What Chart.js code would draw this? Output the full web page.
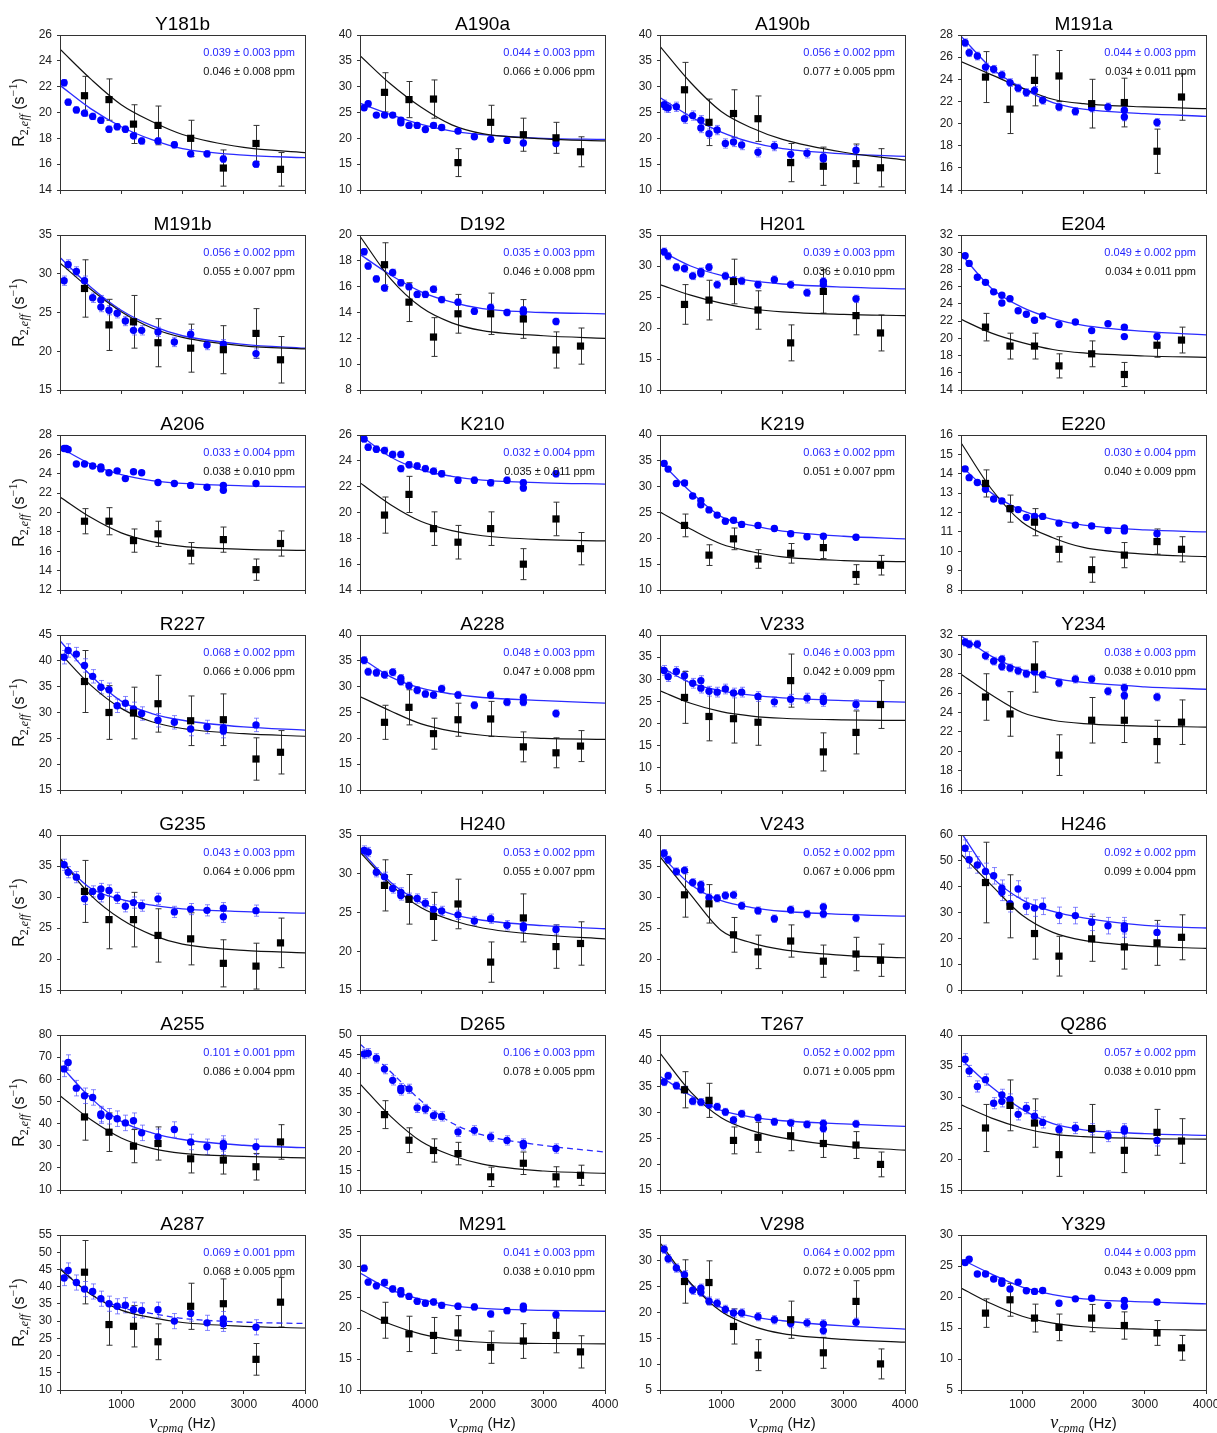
<!DOCTYPE html>
<html><head><meta charset="utf-8">
<script src="https://cdn.jsdelivr.net/npm/chart.js@4.4.0/dist/chart.umd.min.js"></script>
<style>
html,body{margin:0;padding:0;background:#fff;}
#wrap{position:relative;width:1217px;height:1433px;overflow:hidden;background:#fff;}
#wrap canvas{position:absolute;}
</style></head><body><div id="wrap"></div>
<script>
// ---------------- DATA ----------------
const panelNames = ['Y181b','A190a','A190b','M191a','M191b','D192','H201','E204','A206','K210','K219','E220','R227','A228','V233','Y234','G235','H240','V243','H246','A255','D265','T267','Q286','A287','M291','V298','Y329'];
const blueX  = [67,133,267,400,533,667,800,933,1067,1200,1333,1600,1867,2133,2400,2667,3200];
const blackX = [400,800,1200,1600,2133,2667,3200,3600];
const fitX   = [0,500,1000,1500,2000,3000,4000];
const xTicks = [0,1000,2000,3000,4000];
const yMin  = [14,10,10,14, 15,8,10,14, 12,14,10,8, 15,10,5,16, 15,15,15,0, 10,10,15,15, 10,10,5,5];
const yMax  = [26,40,40,28, 35,20,35,32, 28,26,40,16, 45,40,40,32, 40,35,40,60, 80,50,45,40, 55,35,35,30];
const yStep = [2,5,5,2, 5,2,5,2, 2,2,5,1, 5,5,5,2, 5,5,5,10, 10,5,5,5, 5,5,5,5];

const blueY = [
 [22.3,20.8,20.2,19.95,19.7,19.4,18.7,18.9,18.7,18.2,17.8,17.8,17.5,16.8,16.8,16.4,16.0],
 [25.9,26.7,24.5,24.5,24.5,23.5,22.5,22.5,21.7,22.5,22.1,21.4,20.3,19.8,19.6,19.1,19.0],
 [26.5,25.9,26.1,23.8,24.4,23.5,20.9,21.6,19.0,19.3,18.7,17.3,18.5,16.9,17.1,16.4,17.7],
 [27.3,26.4,26.1,25.1,24.9,24.4,23.7,23.2,22.8,23.0,22.1,21.5,21.1,21.4,21.5,21.2,20.1],
 [29.1,31.2,30.3,29.1,26.9,26.6,25.3,24.9,23.9,22.7,22.7,22.5,21.2,22.2,20.8,20.9,19.7],
 [18.7,17.6,16.6,15.9,17.1,16.3,16.0,15.4,15.4,15.8,15.0,14.8,14.1,14.4,14.0,14.2,13.3],
 [32.3,31.6,29.8,29.6,28.4,29.1,29.8,27.0,28.4,27.7,27.6,27.0,27.8,27.0,25.7,27.5,24.7],
 [29.6,28.7,27.1,26.5,25.4,25.0,24.6,23.2,22.8,22.1,22.6,21.6,21.9,20.9,21.7,21.3,20.2],
 [26.6,26.5,25.0,25.0,24.8,24.7,24.1,24.3,23.5,24.2,24.1,23.1,23.0,22.8,22.6,22.8,23.0],
 [25.7,25.05,24.9,24.8,24.5,24.5,23.7,23.6,23.4,23.2,23.0,22.5,22.5,22.3,22.5,22.3,23.0],
 [34.5,33.4,30.6,30.7,28.2,27.3,25.5,24.5,23.3,23.5,22.7,22.5,21.9,20.9,20.3,20.4,20.2],
 [14.25,13.8,13.55,13.2,12.7,12.6,12.2,12.15,11.75,11.8,11.8,11.45,11.35,11.3,11.07,11.2,10.9],
 [40.7,42.0,41.3,39.1,37.0,34.9,34.4,31.3,31.8,30.7,29.8,28.5,28.1,26.8,27.2,27.0,27.6],
 [35.1,32.9,32.7,32.3,32.8,31.65,30.2,29.3,28.6,28.4,29.6,28.4,26.4,28.4,27.0,27.9,24.8],
 [32.0,30.6,31.75,30.8,29.1,29.7,27.3,27.1,27.8,26.9,27.1,26.1,24.9,25.5,25.75,25.75,24.3],
 [31.25,31.05,31.05,29.85,29.3,29.5,28.6,28.3,28.0,28.2,27.9,27.05,27.45,27.45,26.2,26.55,25.6],
 [35.2,34.0,33.2,29.7,30.9,31.3,31.05,29.85,28.5,29.1,28.6,29.7,27.6,28.05,27.85,28.2,27.8],
 [33.0,32.8,30.2,29.6,28.1,27.6,26.9,26.8,26.2,25.4,25.2,24.7,23.9,24.2,23.35,23.3,22.8],
 [37.05,36.0,34.1,34.3,32.35,32.0,29.9,29.8,30.25,30.35,28.6,27.8,26.5,27.95,27.25,28.4,26.6],
 [54.9,50.4,48.4,45.9,44.2,39.4,33.4,39.1,32.4,31.7,32.4,28.9,28.8,26.2,24.9,24.9,22.3],
 [64.7,67.55,56.0,52.55,51.8,44.3,43.3,42.2,40.3,41.3,35.8,34.0,37.3,31.7,29.5,31.0,29.5],
 [45.1,45.3,44.0,41.2,38.3,36.3,36.1,31.2,30.9,29.2,29.0,25.0,25.4,23.7,22.8,22.0,20.7],
 [35.9,37.1,35.2,34.4,32.2,32.0,31.5,31.1,30.1,28.55,29.75,29.0,28.2,28.0,27.7,27.9,27.8],
 [36.1,34.2,31.7,32.8,29.0,30.35,29.6,27.2,28.2,26.9,25.9,24.75,25.0,24.8,23.7,24.8,23.0],
 [42.5,44.7,41.2,39.3,38.6,36.5,35.05,34.3,34.6,33.3,33.1,33.3,30.0,32.2,29.5,30.6,28.2],
 [29.65,27.4,26.8,27.35,26.3,26.0,25.1,24.3,24.0,24.2,23.65,23.5,23.4,22.25,22.8,23.5,22.15],
 [32.25,30.4,28.6,27.3,24.3,24.7,22.2,21.8,20.6,19.9,19.9,19.2,18.6,17.85,18.0,17.8,18.1],
 [25.55,26.1,23.7,23.7,22.9,22.6,21.3,22.4,21.0,20.9,21.05,19.0,19.7,19.8,18.65,19.45,19.2]
];
// repeated measurements [x, y]
const blueExtra = [
 [], [[667,23.0]], [[100,26.0],[667,22.0],[2667,16.0]], [[2667,20.6]],
 [[667,25.7]], [[2667,14.0]], [[667,28.8],[2667,27.0]], [[667,24.1],[2667,20.2]],
 [[100,26.6],[667,24.5],[2667,22.3]], [[667,23.4],[2667,21.9]], [[667,26.5]], [[2667,11.05]],
 [[2667,26.4]], [[667,31.0],[2667,27.0]], [[667,28.0],[2667,25.0]], [[667,28.75],[2667,25.75]],
 [[667,30.1],[2667,26.8]], [[667,27.2],[2667,23.0]], [[667,31.2],[2667,27.25]], [[667,37.8],[2667,23.6]],
 [[667,43.6],[2667,29.5]], [[667,35.7],[2667,21.5]], [[2667,26.9]], [[667,29.3],[2667,24.5]],
 [[2667,29.2]], [[667,25.5],[2667,23.1]], [[667,23.9],[2667,16.5]], [[667,22.2],[2667,18.5]]
];
const blueErr = [0.25,0.5,0.9,0.35, 0.6,0.25,0.6,0.25, 0.2,0.25,0.5,0.12, 1.3,0.7,1.1,0.4, 0.9,0.6,0.6,3.2, 3.5,1.2,0.7,0.9, 2.2,0.5,0.8,0.4];

const blackY = [
 [21.3,21.0,19.1,19.0,18.0,15.7,17.6,15.6],
 [28.9,27.5,27.6,15.3,23.1,20.7,20.1,17.4],
 [29.4,23.1,24.8,23.8,15.3,14.6,15.1,14.3],
 [24.2,21.3,23.9,24.3,21.8,21.9,17.5,22.4],
 [28.1,23.4,23.8,21.1,20.4,20.2,22.3,18.9],
 [17.7,14.8,12.1,13.9,13.9,13.5,11.1,11.4],
 [23.8,24.5,27.5,22.9,17.6,25.9,22.0,19.2],
 [21.3,19.1,19.1,16.8,18.2,15.8,19.2,19.8],
 [19.1,19.1,17.1,17.8,15.8,17.2,14.1,16.8],
 [19.8,21.4,18.75,17.7,18.75,16.0,19.5,17.2],
 [22.5,16.75,19.9,16.0,17.1,18.2,13.0,14.8],
 [13.5,12.2,11.5,10.1,9.05,9.8,10.5,10.1],
 [36.0,30.0,29.9,31.7,28.4,28.6,21.0,22.3],
 [23.1,26.0,20.9,23.6,23.75,18.35,17.2,18.5],
 [25.9,21.6,21.1,20.3,29.7,13.6,18.0,24.3],
 [25.6,23.85,28.7,19.6,23.2,23.2,21.0,23.0],
 [30.9,26.35,26.35,23.8,23.25,19.3,18.85,22.6],
 [28.5,26.7,24.5,26.1,18.6,24.3,20.6,21.0],
 [30.35,28.9,23.9,21.15,22.9,19.65,20.8,19.8],
 [41.6,32.4,21.85,13.1,19.8,16.7,18.25,20.4],
 [43.0,36.1,29.8,31.0,24.1,23.5,20.5,31.7],
 [29.45,22.85,20.2,19.4,13.4,16.9,13.4,13.8],
 [34.4,32.35,24.6,25.2,25.5,24.0,23.7,19.95],
 [25.0,28.65,25.8,20.7,24.9,21.4,24.3,22.9],
 [44.2,29.0,28.5,24.0,34.3,35.05,18.9,35.5],
 [21.25,19.05,18.8,19.2,16.9,17.9,18.8,16.15],
 [26.0,25.8,17.3,11.75,18.6,12.2,22.15,10.05],
 [17.4,19.55,16.6,15.1,16.6,15.4,14.2,11.8]
];
const blackErr = [
 [1.5,1.6,1.5,1.5,1.4,1.4,1.4,1.3],
 [3.8,3.5,3.7,2.7,3.3,3.2,3.0,2.9],
 [5.3,4.5,4.6,4.4,3.7,3.7,3.8,3.7],
 [2.3,2.2,2.3,2.3,2.2,2.2,2.0,2.1],
 [3.7,3.3,3.4,3.1,3.1,3.1,3.2,3.0],
 [1.7,1.5,1.5,1.5,1.6,1.5,1.4,1.4],
 [3.2,3.2,3.6,3.1,2.9,3.5,3.1,2.9],
 [1.6,1.5,1.5,1.4,1.5,1.4,1.4,1.5],
 [1.3,1.4,1.2,1.3,1.1,1.3,1.1,1.3],
 [1.4,1.4,1.3,1.3,1.3,1.2,1.3,1.25],
 [2.2,2.0,2.1,1.8,1.9,2.1,1.9,1.9],
 [0.7,0.7,0.7,0.65,0.65,0.65,0.65,0.65],
 [6.0,5.2,5.0,5.5,4.8,5.0,4.1,4.2],
 [3.3,3.4,3.0,3.2,3.4,2.9,2.9,3.0],
 [5.85,5.5,5.5,5.2,6.0,4.3,4.85,5.4],
 [2.4,2.3,2.6,2.1,2.35,2.3,2.2,2.3],
 [5.0,4.7,4.4,4.3,4.2,3.8,3.7,4.0],
 [3.3,3.2,3.1,3.2,2.6,3.1,2.8,2.8],
 [3.6,3.1,2.8,2.7,2.6,2.6,2.7,2.6],
 [15.6,12.2,9.9,7.7,8.7,8.6,8.7,8.7],
 [10.5,8.7,7.5,7.5,6.4,6.3,6.0,7.8],
 [3.6,3.2,3.0,2.9,2.5,2.9,2.6,2.6],
 [3.5,3.3,2.6,2.9,2.9,2.7,2.6,2.4],
 [3.8,4.1,3.9,3.5,3.9,3.6,3.7,3.6],
 [9.2,6.0,6.0,5.2,6.7,7.2,4.6,7.2],
 [2.9,2.85,2.9,2.8,2.6,2.8,2.8,2.6],
 [4.2,4.2,3.4,3.0,3.6,3.0,4.0,2.9],
 [2.3,2.65,2.25,2.15,2.2,2.2,2.0,2.0]
];
// fitted curves read at fitX
const blueFit = [
 [22.1,20.3,18.9,17.9,17.2,16.7,16.5],
 [26.8,24.6,22.7,21.4,20.7,20.0,19.8],
 [27.9,24.2,21.2,19.2,18.0,17.0,16.5],
 [27.9,25.0,23.2,21.9,21.3,20.9,20.65],
 [32.1,28.3,25.3,23.3,22.0,20.9,20.4],
 [18.5,16.9,15.6,14.8,14.3,14.0,13.9],
 [32.5,30.0,28.5,27.6,27.1,26.6,26.3],
 [29.8,25.8,23.6,22.3,21.5,20.8,20.4],
 [26.7,25.0,23.9,23.3,23.0,22.75,22.65],
 [26.0,24.3,23.3,22.8,22.5,22.3,22.2],
 [34.9,29.0,24.2,22.5,21.4,20.4,19.9],
 [14.4,13.0,12.1,11.65,11.35,11.1,11.0],
 [43.9,37.2,32.2,29.8,28.5,27.2,26.6],
 [35.7,31.9,29.7,28.6,27.9,27.3,26.8],
 [32.9,29.2,27.4,26.4,25.8,25.2,24.85],
 [31.9,29.8,28.4,27.55,27.1,26.65,26.4],
 [36.0,31.4,29.6,28.7,28.1,27.65,27.4],
 [33.1,28.9,26.3,24.8,24.0,23.3,22.9],
 [36.9,32.0,29.4,28.3,27.7,27.2,26.9],
 [61.0,43.9,34.9,30.4,27.9,25.0,24.0],
 [66.5,51.6,41.0,35.8,32.8,30.2,29.1],
 [47.7,40.5,33.0,27.3,24.2,21.5,19.8],
 [37.0,33.3,30.4,29.1,28.4,27.8,27.3],
 [36.1,31.6,28.0,25.7,24.7,24.1,23.8],
 [45.4,37.9,34.0,32.2,30.8,29.7,29.3],
 [28.85,26.2,24.6,23.6,23.15,22.85,22.7],
 [32.9,25.5,21.0,19.2,18.4,17.4,16.8],
 [26.1,23.7,21.6,20.4,19.7,19.2,18.9]
];
const blackFit = [
 [24.9,22.6,20.6,19.3,18.3,17.3,16.9],
 [36.0,30.5,26.0,22.6,20.9,19.9,19.5],
 [37.8,30.8,25.2,22.0,19.8,17.3,15.8],
 [25.6,24.4,23.2,22.2,21.8,21.5,21.35],
 [31.4,28.0,25.1,23.0,21.8,20.7,20.3],
 [19.9,16.6,14.4,13.2,12.6,12.2,12.0],
 [27.0,25.3,24.0,23.1,22.6,22.2,22.0],
 [22.2,20.6,19.5,18.7,18.3,17.95,17.8],
 [21.6,19.5,17.9,17.0,16.5,16.2,16.1],
 [22.3,20.6,19.3,18.6,18.2,17.9,17.8],
 [25.1,21.8,18.9,17.4,16.4,15.7,15.5],
 [15.6,13.2,11.5,10.7,10.2,9.85,9.72],
 [41.5,35.3,30.8,28.2,26.9,25.9,25.4],
 [28.1,25.3,22.8,21.4,20.6,20.0,19.8],
 [27.4,24.6,22.7,21.7,21.2,20.85,20.7],
 [27.95,25.8,24.0,23.2,22.85,22.6,22.5],
 [36.25,30.3,26.4,23.9,22.4,21.4,21.0],
 [32.8,28.6,25.6,24.0,23.0,22.1,21.6],
 [36.5,30.4,24.6,22.6,21.5,20.6,20.2],
 [52.6,40.5,28.9,22.3,19.2,17.0,16.1],
 [52.6,41.8,33.5,28.8,26.5,25.2,24.55],
 [37.4,29.0,22.5,18.9,16.7,14.9,14.3],
 [41.5,34.0,29.0,26.5,25.1,23.5,22.7],
 [28.75,26.6,25.0,24.0,23.6,23.3,23.2],
 [45.1,37.8,33.2,31.0,29.6,28.5,28.0],
 [22.95,20.6,19.0,18.1,17.7,17.5,17.45],
 [33.5,25.7,20.2,17.4,15.9,14.8,14.25],
 [21.45,18.9,16.9,15.8,15.2,14.8,14.65]
];
const blueLabel = ['0.039 ± 0.003 ppm','0.044 ± 0.003 ppm','0.056 ± 0.002 ppm','0.044 ± 0.003 ppm',
 '0.056 ± 0.002 ppm','0.035 ± 0.003 ppm','0.039 ± 0.003 ppm','0.049 ± 0.002 ppm',
 '0.033 ± 0.004 ppm','0.032 ± 0.004 ppm','0.063 ± 0.002 ppm','0.030 ± 0.004 ppm',
 '0.068 ± 0.002 ppm','0.048 ± 0.003 ppm','0.046 ± 0.003 ppm','0.038 ± 0.003 ppm',
 '0.043 ± 0.003 ppm','0.053 ± 0.002 ppm','0.052 ± 0.002 ppm','0.092 ± 0.002 ppm',
 '0.101 ± 0.001 ppm','0.106 ± 0.003 ppm','0.052 ± 0.002 ppm','0.057 ± 0.002 ppm',
 '0.069 ± 0.001 ppm','0.041 ± 0.003 ppm','0.064 ± 0.002 ppm','0.044 ± 0.003 ppm'];
const blackLabel = ['0.046 ± 0.008 ppm','0.066 ± 0.006 ppm','0.077 ± 0.005 ppm','0.034 ± 0.011 ppm',
 '0.055 ± 0.007 ppm','0.046 ± 0.008 ppm','0.036 ± 0.010 ppm','0.034 ± 0.011 ppm',
 '0.038 ± 0.010 ppm','0.035 ± 0.011 ppm','0.051 ± 0.007 ppm','0.040 ± 0.009 ppm',
 '0.066 ± 0.006 ppm','0.047 ± 0.008 ppm','0.042 ± 0.009 ppm','0.038 ± 0.010 ppm',
 '0.064 ± 0.006 ppm','0.055 ± 0.007 ppm','0.067 ± 0.006 ppm','0.099 ± 0.004 ppm',
 '0.086 ± 0.004 ppm','0.078 ± 0.005 ppm','0.071 ± 0.005 ppm','0.038 ± 0.010 ppm',
 '0.068 ± 0.005 ppm','0.038 ± 0.010 ppm','0.072 ± 0.005 ppm','0.043 ± 0.009 ppm'];
const dashedBlue = ['D265','A287'];

// ---------------- LAYOUT / STYLE ----------------
const colLeft = [60, 360, 660, 961];
const PW = 245, PH = 155, ROW_GAP = 200, TOP0 = 35;
const FONT = "'Liberation Sans', Arial, Helvetica, sans-serif";
const MATH = "'Liberation Serif', 'DejaVu Serif', serif";
const BLUE = '#0000ff', BLUE_LINE = '#2b2bff', BLUE_ERR = 'rgba(70,70,255,0.65)', INK = '#222';
const wrap = document.getElementById('wrap');

function richText(ctx, segs, x, y) {
  let w = 0;
  segs.forEach(s => { ctx.font = s[1]; w += ctx.measureText(s[0]).width; });
  let cx = x - w / 2;
  segs.forEach(s => { ctx.font = s[1]; ctx.fillText(s[0], cx, y + (s[2] || 0)); cx += ctx.measureText(s[0]).width; });
}

const errorBars = {
  id: 'errorBars',
  beforeDatasetsDraw(chart) {
    const ctx = chart.ctx, xs = chart.scales.x, ys = chart.scales.y;
    ctx.save();
    chart.data.datasets.forEach(ds => {
      if (!ds.errors) return;
      ctx.strokeStyle = ds.errColor; ctx.lineWidth = 1;
      const cap = ds.cap;
      ds.data.forEach((p, k) => {
        const e = ds.errors[k];
        const x = Math.round(xs.getPixelForValue(p.x)) + 0.5;
        const y1 = ys.getPixelForValue(p.y - e), y2 = ys.getPixelForValue(p.y + e);
        ctx.beginPath();
        ctx.moveTo(x, y1); ctx.lineTo(x, y2);
        ctx.moveTo(x - cap, y1); ctx.lineTo(x + cap, y1);
        ctx.moveTo(x - cap, y2); ctx.lineTo(x + cap, y2);
        ctx.stroke();
      });
    });
    ctx.restore();
  }
};

const decorations = {
  id: 'decorations',
  afterDraw(chart, args, opts) {
    const ctx = chart.ctx, a = chart.chartArea;
    ctx.save();
    ctx.strokeStyle = '#333'; ctx.lineWidth = 1;
    ctx.strokeRect(Math.round(a.left) + 0.5, Math.round(a.top) + 0.5, Math.round(a.right - a.left), Math.round(a.bottom - a.top));
    const cx = (a.left + a.right) / 2;
    ctx.fillStyle = '#000'; ctx.textAlign = 'center'; ctx.textBaseline = 'alphabetic';
    ctx.font = '19px ' + FONT;
    ctx.fillText(opts.title, cx, a.top - 5);
    ctx.textAlign = 'right'; ctx.font = '11px ' + FONT;
    ctx.fillStyle = '#1f1fff'; ctx.fillText(opts.blue, a.right - 10, a.top + 20.5);
    ctx.fillStyle = '#111'; ctx.fillText(opts.black, a.right - 10, a.top + 40);
    ctx.textAlign = 'left'; ctx.fillStyle = '#111';
    if (opts.yTitle) {
      ctx.save();
      ctx.translate(18, (a.top + a.bottom) / 2);
      ctx.rotate(-Math.PI / 2);
      richText(ctx, [['R', '16px ' + FONT], ['2,', '12px ' + MATH, 4], ['eff', 'italic 12px ' + MATH, 4],
        [' (s', '16px ' + FONT], ['\u22121', '12px ' + MATH, -7], [')', '16px ' + FONT]], 0, 5.5);
      ctx.restore();
    }
    if (opts.xTitle) {
      richText(ctx, [['\u03bd', 'italic 18px ' + MATH], ['cpmg', 'italic 12px ' + MATH, 4],
        [' (Hz)', '15px ' + FONT]], cx, a.bottom + 38);
    }
    ctx.restore();
  }
};

panelNames.forEach((name, i) => {
  const r = Math.floor(i / 4), c = i % 4;
  const bottomRow = r === 6;
  const xAxisH = bottomRow ? 48 : 10;
  const W = 60 + PW + 24, H = TOP0 + PH + xAxisH;
  const cv = document.createElement('canvas');
  cv.width = W; cv.height = H;
  cv.style.left = (colLeft[c] - 60) + 'px';
  cv.style.top = (r * ROW_GAP) + 'px';
  cv.style.width = W + 'px'; cv.style.height = H + 'px';
  wrap.appendChild(cv);

  const bluePts = blueX.map((x, k) => ({ x, y: blueY[i][k] }))
    .concat(blueExtra[i].map(p => ({ x: p[0], y: p[1] })));
  const blackPts = blackX.map((x, k) => ({ x, y: blackY[i][k] }));
  const bFit = fitX.map((x, k) => ({ x, y: blueFit[i][k] }));
  const kFit = fitX.map((x, k) => ({ x, y: blackFit[i][k] }));

  new Chart(cv, {
    type: 'line',
    data: {
      datasets: [
        { data: blackPts, showLine: false, order: 0, pointStyle: 'rect', pointRadius: 5.1,
          pointBackgroundColor: '#000', pointBorderWidth: 0, borderColor: '#000',
          errors: blackErr[i], errColor: '#333', cap: 3 },
        { data: bluePts, showLine: false, order: 1, pointStyle: 'circle', pointRadius: 3.7,
          pointBackgroundColor: BLUE, pointBorderWidth: 0, borderColor: BLUE,
          errors: bluePts.map(() => blueErr[i]), errColor: BLUE_ERR, cap: 2.5 },
        { data: kFit, order: 2, borderColor: '#111', borderWidth: 1.2, pointRadius: 0,
          cubicInterpolationMode: 'monotone', fill: false },
        { data: bFit, order: 3, borderColor: BLUE_LINE, borderWidth: 1.3, pointRadius: 0,
          cubicInterpolationMode: 'monotone', fill: false,
          borderDash: dashedBlue.includes(name) ? [6, 4] : [] }
      ]
    },
    options: {
      responsive: false, animation: false, devicePixelRatio: 1,
      layout: { padding: { left: 0, right: 24, top: TOP0, bottom: 0 } },
      plugins: {
        legend: { display: false }, tooltip: { enabled: false },
        decorations: { title: name, blue: blueLabel[i], black: blackLabel[i], yTitle: c === 0, xTitle: bottomRow }
      },
      scales: {
        x: {
          type: 'linear', position: 'bottom', min: xTicks[0], max: xTicks[xTicks.length - 1],
          afterBuildTicks: s => { s.ticks = xTicks.map(v => ({ value: v })); },
          afterFit: s => { s.height = xAxisH; s.paddingLeft = 0; s.paddingRight = 0; },
          ticks: { display: bottomRow, autoSkip: false, maxRotation: 0, padding: 3, color: INK,
            font: { family: FONT, size: 12 }, callback: v => (v === 0 ? '' : String(v)) },
          grid: { drawOnChartArea: false, drawTicks: true, tickLength: 4, color: '#333' },
          border: { display: false }
        },
        y: {
          type: 'linear', min: yMin[i], max: yMax[i],
          afterFit: s => { s.width = 60; s.paddingTop = 0; s.paddingBottom = 0; },
          ticks: { stepSize: yStep[i], autoSkip: false, padding: 5, color: INK,
            font: { family: FONT, size: 12 } },
          grid: { drawOnChartArea: false, drawTicks: true, tickLength: 3, color: '#333' },
          border: { display: false }
        }
      }
    },
    plugins: [errorBars, decorations]
  });
});
</script>
</body></html>
